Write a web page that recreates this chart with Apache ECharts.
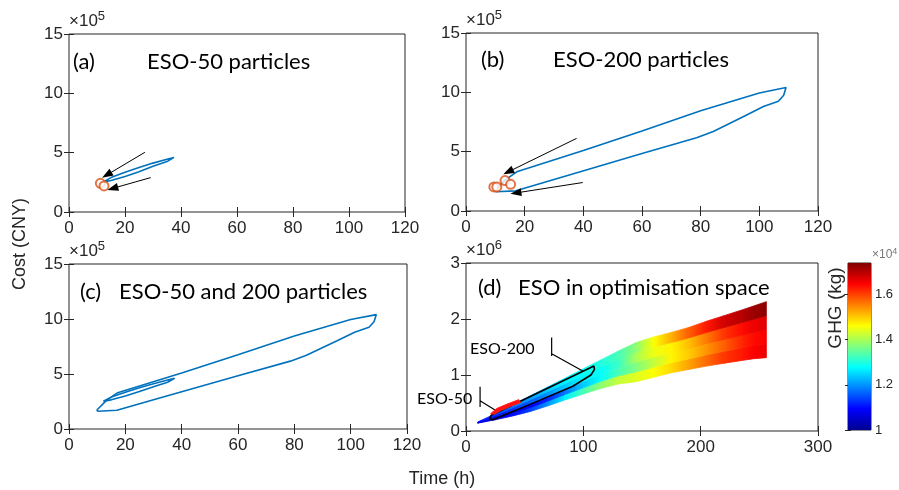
<!DOCTYPE html>
<html>
<head>
<meta charset="utf-8">
<title>ESO particles</title>
<script src="https://cdn.jsdelivr.net/npm/echarts@6/dist/echarts.min.js"></script>
<style>
  html, body { margin: 0; padding: 0; background: #fff; }
  #chart { width: 899px; height: 490px; }
</style>
</head>
<body>
<div id="chart"></div>
<script>
// ---- data: time in h, cost in 1e5 CNY (a-c) and 1e6 CNY (d), GHG in 1e4 kg ----

// ESO-50 search envelope (panels a, c)
const eso50Time = [12.2, 15, 20, 25, 30, 35, 37.5, 37.8, 35, 30, 25, 20, 15, 12.2];
const eso50Cost = [2.52, 2.9, 3.35, 3.75, 4.12, 4.45, 4.6, 4.5, 4.25, 3.85, 3.4, 3.0, 2.65, 2.52];

// ESO-200 search envelope (panels b, c)
const eso200Time = [10, 17, 30, 45, 60, 78.6, 84.3, 95, 101.4, 106.5, 108.3, 109.1, 108.5, 100, 80, 60, 40, 17.3, 13.3, 10, 10];
const eso200Cost = [1.62, 1.7, 2.65, 3.75, 4.85, 6.17, 6.7, 8.0, 8.8, 9.25, 9.75, 10.4, 10.55, 9.95, 8.45, 6.75, 5.1, 3.3, 2.6, 1.75, 1.62];

// optimal points (orange circles)
const best50Time = [11.2, 12.5];
const best50Cost = [2.42, 2.2];
const best200Time = [9.5, 10.5, 13.3, 15.2];
const best200Cost = [2.03, 2.03, 2.56, 2.25];

// arrows [fromTime, fromCost, toTime, toCost]
const arrows50 = [[27.1, 5.03, 13.5, 3.12], [29.2, 2.9, 15.6, 1.99]];
const arrows200 = [[37.7, 6.12, 14.4, 3.3], [39.8, 2.4, 17.0, 1.52]];

// panel d: optimisation space (cost 1e6 CNY)
const spaceTime = [10, 25, 40, 55, 70, 85, 100, 115, 130, 145, 160, 175, 190, 205, 220, 235, 245, 256];
const spaceUpper = [0.16, 0.31, 0.47, 0.63, 0.79, 0.95, 1.11, 1.27, 1.43, 1.58, 1.68, 1.76, 1.85, 1.96, 2.06, 2.16, 2.23, 2.31];
const spaceLower = [0.14, 0.20, 0.27, 0.35, 0.45, 0.56, 0.66, 0.76, 0.84, 0.88, 0.96, 1.04, 1.10, 1.16, 1.21, 1.26, 1.29, 1.31];
// GHG (1e4 kg) in four bands from the lower edge to the upper edge
const ghgBand0 = [1.05, 1.08, 1.10, 1.14, 1.20, 1.27, 1.33, 1.38, 1.42, 1.44, 1.46, 1.49, 1.53, 1.57, 1.61, 1.63, 1.65, 1.66];
const ghgBand1 = [1.06, 1.05, 1.06, 1.08, 1.12, 1.18, 1.24, 1.28, 1.33, 1.37, 1.42, 1.47, 1.50, 1.54, 1.58, 1.62, 1.64, 1.65];
const ghgBand2 = [1.08, 1.10, 1.13, 1.16, 1.20, 1.24, 1.27, 1.28, 1.32, 1.40, 1.45, 1.47, 1.51, 1.56, 1.61, 1.64, 1.66, 1.67];
const ghgBand3 = [1.10, 1.14, 1.18, 1.21, 1.24, 1.27, 1.28, 1.30, 1.33, 1.38, 1.46, 1.52, 1.58, 1.63, 1.68, 1.70, 1.72, 1.73];

// ESO-200 outline and ESO-50 area in panel d
const dLoopTime = [20, 23, 55, 91, 106.5, 109.5, 109, 65, 21.5, 20];
const dLoopCost = [0.22, 0.20, 0.48, 0.80, 1.00, 1.10, 1.16, 0.72, 0.28, 0.22];
const dRedTime = [21, 26, 35, 45, 46.5, 38, 30, 24, 21];
const dRedCost = [0.31, 0.40, 0.48, 0.56, 0.51, 0.44, 0.37, 0.30, 0.31];
// leader lines of the labels
const lead200Time = [73, 73, 73, 99.5];
const lead200Cost = [1.67, 1.34, 1.38, 1.07];
const lead50Time = [12, 12, 12, 27.5];
const lead50Cost = [0.79, 0.43, 0.54, 0.34];

const ghgMin = 1, ghgMax = 1.74;

// ---- helpers ----
const jetStops = [
  [0, [0, 0, 143]], [0.125, [0, 0, 255]], [0.375, [0, 255, 255]],
  [0.625, [255, 255, 0]], [0.875, [255, 0, 0]], [1, [128, 0, 0]]
];
function jet(v) {
  let t = (v - ghgMin) / (ghgMax - ghgMin);
  t = Math.max(0, Math.min(1, t));
  for (let i = 1; i < jetStops.length; i++) {
    if (t <= jetStops[i][0]) {
      const a = jetStops[i - 1], b = jetStops[i];
      const f = (t - a[0]) / (b[0] - a[0]);
      const c = a[1].map((x, k) => Math.round(x + (b[1][k] - x) * f));
      return 'rgb(' + c.join(',') + ')';
    }
  }
  return 'rgb(128,0,0)';
}

const pairs = (xs, ys) => xs.map((x, i) => [x, ys[i]]);

const axisColor = '#262626';
const tickFont = 'Liberation Sans';

function xAxes(gi, min, max, interval) {
  return [
    {
      gridIndex: gi, type: 'value', position: 'bottom', min, max, interval,
      axisLine: { show: false }, splitLine: { show: false },
      axisTick: { inside: true, length: 5, lineStyle: { color: axisColor } },
      axisLabel: { color: axisColor, fontFamily: tickFont, fontSize: 17, margin: 8 }
    },
    {
      gridIndex: gi, type: 'value', position: 'top', min, max, interval,
      axisLine: { show: false }, splitLine: { show: false },
      axisTick: { inside: true, length: 5, lineStyle: { color: axisColor } },
      axisLabel: { show: false }
    }
  ];
}
function yAxes(gi, min, max, interval, power) {
  return [
    {
      gridIndex: gi, type: 'value', position: 'left', min, max, interval,
      axisLine: { show: false }, splitLine: { show: false },
      axisTick: { inside: true, length: 5, lineStyle: { color: axisColor } },
      axisLabel: { color: axisColor, fontFamily: tickFont, fontSize: 17, margin: 6 },
      name: '{b|×10}{s|' + power + '}', nameLocation: 'end', nameGap: 1,
      nameTextStyle: {
        align: 'left', verticalAlign: 'bottom', color: axisColor,
        rich: {
          b: { fontFamily: tickFont, fontSize: 17, color: axisColor },
          s: { fontFamily: tickFont, fontSize: 13, color: axisColor, padding: [0, 0, 10, 0] }
        }
      }
    },
    {
      gridIndex: gi, type: 'value', position: 'right', min, max, interval,
      axisLine: { show: false }, splitLine: { show: false },
      axisTick: { inside: true, length: 5, lineStyle: { color: axisColor } },
      axisLabel: { show: false }
    }
  ];
}

function envelope(name, idx, xs, ys) {
  return {
    name, type: 'line', xAxisIndex: idx, yAxisIndex: idx,
    data: pairs(xs, ys), symbol: 'none', smooth: false,
    lineStyle: { color: '#0072BD', width: 1.6 }, silent: true, z: 3
  };
}
function bestPoints(idx, xs, ys) {
  return {
    type: 'scatter', xAxisIndex: idx, yAxisIndex: idx,
    data: pairs(xs, ys), symbol: 'emptyCircle', symbolSize: 9,
    itemStyle: { color: '#D95319', borderColor: '#D95319', borderWidth: 1.6 },
    silent: true, z: 4
  };
}
function arrowSeries(idx, list) {
  return {
    type: 'line', xAxisIndex: idx, yAxisIndex: idx, data: [], silent: true,
    markLine: {
      silent: true, animation: false,
      symbol: ['none', 'triangle'], symbolSize: [8, 11],
      label: { show: false },
      lineStyle: { color: '#000', width: 1, type: 'solid' },
      data: list.map(a => [{ coord: [a[0], a[1]] }, { coord: [a[2], a[3]] }])
    }
  };
}
function blackLine(idx, xs, ys, width) {
  return {
    type: 'line', xAxisIndex: idx, yAxisIndex: idx, data: pairs(xs, ys),
    symbol: 'none', lineStyle: { color: '#000', width }, silent: true, z: 5
  };
}

// cells of the optimisation space: [t0, t1, bottom0, top0, bottom1, top1, ghg0, ghg1]
const bands = [ghgBand0, ghgBand1, ghgBand2, ghgBand3];
const nb = bands.length;
const spaceCells = [];
for (let i = 0; i < spaceTime.length - 1; i++) {
  for (let j = 0; j < nb; j++) {
    const lerp = (k, f) => spaceLower[k] + (spaceUpper[k] - spaceLower[k]) * f;
    spaceCells.push([
      spaceTime[i], spaceTime[i + 1],
      lerp(i, j / nb), lerp(i, (j + 1) / nb),
      lerp(i + 1, j / nb), lerp(i + 1, (j + 1) / nb),
      bands[j][i], bands[j][i + 1]
    ]);
  }
}

const panelFont = 'Lato';
function panelText(x, y, text, size) {
  return {
    type: 'text', x, y, silent: true,
    style: { text, fill: '#000', font: (size || 22) + 'px ' + panelFont, textVerticalAlign: 'middle' }
  };
}

const chart = echarts.init(document.getElementById('chart'), null, { renderer: 'canvas' });

const gridStyle = { show: true, borderColor: axisColor, borderWidth: 1, backgroundColor: 'transparent', containLabel: false };

chart.setOption({
  animation: false,
  grid: [
    Object.assign({ left: 69, top: 34, width: 336, height: 178 }, gridStyle),
    Object.assign({ left: 466, top: 33, width: 352, height: 178 }, gridStyle),
    Object.assign({ left: 69, top: 264, width: 338, height: 165 }, gridStyle),
    Object.assign({ left: 466, top: 263, width: 352, height: 168 }, gridStyle),
    Object.assign({ left: 848, top: 263, width: 23, height: 167 }, gridStyle)
  ],
  xAxis: [
    ...xAxes(0, 0, 120, 20),
    ...xAxes(1, 0, 120, 20),
    ...xAxes(2, 0, 120, 20),
    ...xAxes(3, 0, 300, 100),
    { gridIndex: 4, type: 'value', min: 0, max: 1, show: false },
    { gridIndex: 4, type: 'value', min: 0, max: 1, show: false }
  ],
  yAxis: [
    ...yAxes(0, 0, 15, 5, 5),
    ...yAxes(1, 0, 15, 5, 5),
    ...yAxes(2, 0, 15, 5, 5),
    ...yAxes(3, 0, 3, 1, 6),
    {
      gridIndex: 4, type: 'value', position: 'left', min: ghgMin, max: ghgMax, interval: 0.2,
      axisLine: { show: false }, splitLine: { show: false },
      axisTick: { inside: true, length: 3, lineStyle: { color: axisColor } },
      axisLabel: { show: false }
    },
    {
      gridIndex: 4, type: 'value', position: 'right', min: ghgMin, max: ghgMax, interval: 0.2,
      axisLine: { show: false }, splitLine: { show: false },
      axisTick: { inside: true, length: 3, lineStyle: { color: axisColor } },
      axisLabel: {
        color: axisColor, fontFamily: tickFont, fontSize: 13, margin: 4, showMaxLabel: false,
        formatter: v => (Math.abs(v - 1) < 1e-9 ? '1' : v.toFixed(1))
      }
    }
  ],
  series: [
    // (a)
    envelope('ESO-50', 0, eso50Time, eso50Cost),
    bestPoints(0, best50Time, best50Cost),
    arrowSeries(0, arrows50),
    // (b)
    envelope('ESO-200', 2, eso200Time, eso200Cost),
    bestPoints(2, best200Time, best200Cost),
    arrowSeries(2, arrows200),
    // (c)
    envelope('ESO-200', 4, eso200Time, eso200Cost),
    envelope('ESO-50', 4, eso50Time, eso50Cost),
    // (d) optimisation space coloured by GHG
    {
      type: 'custom', xAxisIndex: 6, yAxisIndex: 6, silent: true, z: 2,
      data: spaceCells,
      encode: { x: [0, 1], y: [2, 3, 4, 5] },
      renderItem(params, api) {
        const p1 = api.coord([api.value(0), api.value(2)]);
        const p2 = api.coord([api.value(1), api.value(4)]);
        const p3 = api.coord([api.value(1), api.value(5)]);
        const p4 = api.coord([api.value(0), api.value(3)]);
        const grad = new echarts.graphic.LinearGradient(p1[0], 0, p2[0], 0, [
          { offset: 0, color: jet(api.value(6)) },
          { offset: 1, color: jet(api.value(7)) }
        ], true);
        return {
          type: 'polygon', shape: { points: [p1, p2, p3, p4] },
          style: { fill: grad, stroke: grad, lineWidth: 0.8 }
        };
      }
    },
    {
      type: 'custom', xAxisIndex: 6, yAxisIndex: 6, silent: true, z: 6,
      data: [0],
      renderItem(params, api) {
        const pts = dRedTime.map((t, i) => api.coord([t, dRedCost[i]]));
        return { type: 'polygon', shape: { points: pts }, style: { fill: '#FF1010', stroke: '#FF2020', lineWidth: 1 } };
      }
    },
    blackLine(6, dLoopTime, dLoopCost, 1.6),
    blackLine(6, lead200Time, lead200Cost, 1.2),
    blackLine(6, lead50Time, lead50Cost, 1.2),
    // colour bar
    {
      type: 'custom', xAxisIndex: 8, yAxisIndex: 8, silent: true,
      data: [[0, ghgMin, 1, ghgMax]],
      renderItem(params, api) {
        const a = api.coord([api.value(0), api.value(1)]);
        const b = api.coord([api.value(2), api.value(3)]);
        const grad = new echarts.graphic.LinearGradient(0, 1, 0, 0,
          jetStops.map(s => ({ offset: s[0], color: 'rgb(' + s[1].join(',') + ')' })));
        return {
          type: 'rect',
          shape: { x: a[0], y: b[1], width: b[0] - a[0], height: a[1] - b[1] },
          style: { fill: grad }
        };
      }
    }
  ],
  graphic: [
    panelText(73, 62, '(a)'),
    panelText(147, 62, 'ESO-50 particles'),
    panelText(481, 60, '(b)'),
    panelText(553, 60, 'ESO-200 particles'),
    panelText(80, 292, '(c)'),
    panelText(119, 292, 'ESO-50 and 200 particles'),
    panelText(478, 288, '(d)'),
    panelText(518, 288, 'ESO in optimisation space'),
    panelText(470, 349, 'ESO-200', 16),
    panelText(417, 399, 'ESO-50', 16),
    {
      type: 'text', x: 872, y: 255, silent: true,
      style: {
        text: '{b|×10}{s|4}', textVerticalAlign: 'middle',
        rich: {
          b: { fontFamily: tickFont, fontSize: 12, fill: '#777' },
          s: { fontFamily: tickFont, fontSize: 9, fill: '#777', padding: [0, 0, 7, 0] }
        }
      }
    },
    {
      type: 'text', x: 20, y: 244, rotation: Math.PI / 2, silent: true,
      style: { text: 'Cost (CNY)', fill: axisColor, font: '18px ' + tickFont, textAlign: 'center', textVerticalAlign: 'middle' }
    },
    {
      type: 'text', x: 442, y: 479, silent: true,
      style: { text: 'Time (h)', fill: axisColor, font: '18px ' + tickFont, textAlign: 'center', textVerticalAlign: 'middle' }
    },
    {
      type: 'text', x: 836, y: 308, rotation: Math.PI / 2, silent: true,
      style: { text: 'GHG (kg)', fill: axisColor, font: '19px ' + tickFont, textAlign: 'center', textVerticalAlign: 'middle' }
    }
  ]
});
</script>
</body>
</html>
